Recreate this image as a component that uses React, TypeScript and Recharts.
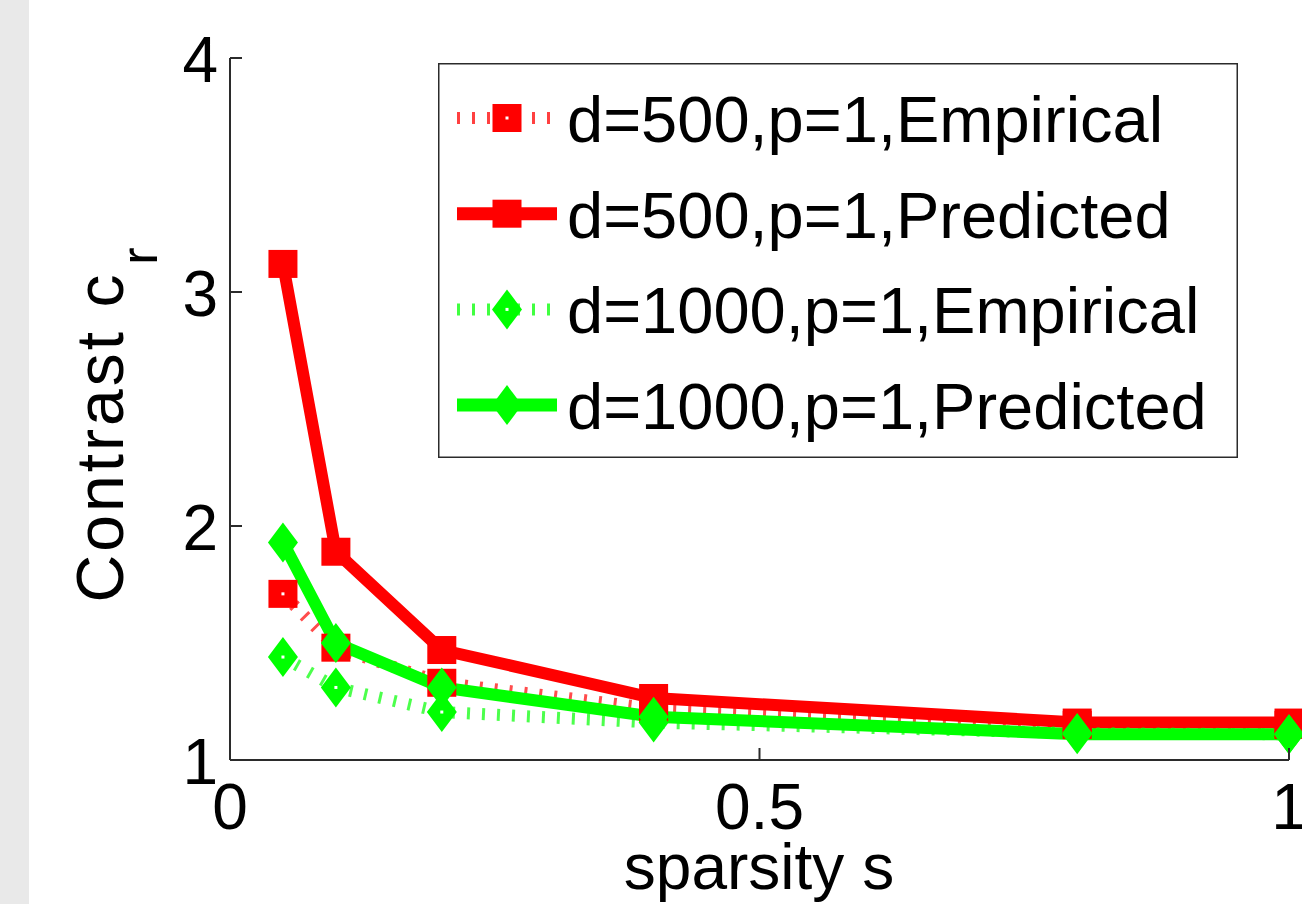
import { Legend, Line, LineChart, XAxis, YAxis } from 'recharts';

// sparsity values on the x axis
const sparsity = [0.05, 0.1, 0.2, 0.4, 0.8, 1.0];
// contrast c_r
const emp500 = [1.71, 1.48, 1.33, 1.22, 1.15, 1.15];
const pred500 = [3.12, 1.89, 1.47, 1.265, 1.16, 1.16];
const emp1000 = [1.44, 1.31, 1.205, 1.16, 1.115, 1.11];
const pred1000 = [1.93, 1.5, 1.31, 1.185, 1.11, 1.11];

const xTicks = [0, 0.5, 1];
const yTicks = [1, 2, 3, 4];

const data = sparsity.map((s, i) => ({
	s,
	emp500: emp500[i],
	pred500: pred500[i],
	emp1000: emp1000[i],
	pred1000: pred1000[i],
}));

const RED = '#ff0000';
const GREEN = '#00ff00';
const AXIS = '#2b2b2b';
const FONT = '"Liberation Sans", Arial, Helvetica, sans-serif';

const series = [
	{ key: 'emp500', name: 'd=500,p=1,Empirical', color: RED, dotted: true, shape: 'square' },
	{ key: 'pred500', name: 'd=500,p=1,Predicted', color: RED, dotted: false, shape: 'square' },
	{ key: 'emp1000', name: 'd=1000,p=1,Empirical', color: GREEN, dotted: true, shape: 'diamond' },
	{ key: 'pred1000', name: 'd=1000,p=1,Predicted', color: GREEN, dotted: false, shape: 'diamond' },
];

function Marker({ cx, cy, shape, color, hollow }: any) {
	if (cx == null || cy == null) return null;
	const body =
		shape === 'square' ? (
			<rect x={cx - 14.5} y={cy - 14} width={29} height={28} fill={color} />
		) : (
			<polygon points={`${cx},${cy - 20} ${cx + 15},${cy} ${cx},${cy + 20} ${cx - 15},${cy}`} fill={color} />
		);
	return (
		<g>
			{body}
			{hollow && <rect x={cx - 1.5} y={cy - 1.5} width={3} height={3} fill="#fff" />}
		</g>
	);
}

function XTick({ x, y, payload }: any) {
	return (
		<g>
			<line x1={x} x2={x} y1={y} y2={y - 12} stroke={AXIS} strokeWidth={2} />
			<text x={x} y={y + 69} textAnchor="middle" fontSize={64} fontFamily={FONT} fill="#000">
				{String(payload.value)}
			</text>
		</g>
	);
}

function YTick({ x, y, payload }: any) {
	return (
		<g>
			<line x1={x} x2={x + 12} y1={y} y2={y} stroke={AXIS} strokeWidth={2} />
			<text x={x - 12} y={y + 24} textAnchor="end" fontSize={64} fontFamily={FONT} fill="#000">
				{String(payload.value)}
			</text>
		</g>
	);
}

function XLabel() {
	return (
		<text x={759} y={889} textAnchor="middle" fontSize={64} fontFamily={FONT} fill="#000">
			sparsity s
		</text>
	);
}

function YLabel() {
	return (
		<g fontFamily={FONT} fill="#000">
			<text transform="translate(123,437) rotate(-90)" textAnchor="middle" fontSize={66} letterSpacing={3}>
				Contrast c
			</text>
			<text transform="translate(157,256) rotate(-90)" textAnchor="middle" fontSize={52}>
				r
			</text>
		</g>
	);
}

function LegendBox({ payload }: any) {
	const keys = (payload || []).map((p: any) => p.dataKey);
	const rows = series.filter((s) => keys.includes(s.key));
	return (
		<svg width={800} height={395} style={{ display: 'block' }}>
			<rect x={0.75} y={0.75} width={798.5} height={393.5} fill="#fff" stroke={AXIS} strokeWidth={1.5} />
			{rows.map((s: any, i: number) => {
				const cy = 55 + i * 95.7;
				return (
					<g key={s.key}>
						<line
							x1={19}
							x2={119}
							y1={cy}
							y2={cy}
							stroke={s.color}
							strokeWidth={s.dotted ? 12 : 13}
							strokeDasharray={s.dotted ? '3 12' : undefined}
							strokeOpacity={s.dotted ? 0.75 : 1}
						/>
						<Marker cx={69} cy={cy} shape={s.shape} color={s.color} hollow={s.dotted} />
						<text x={129} y={cy + 24} fontSize={65} fontFamily={FONT} fill="#000">
							{s.name}
						</text>
					</g>
				);
			})}
		</svg>
	);
}

export default function App() {
	return (
		<div style={{ position: 'absolute', left: 0, top: 0, width: 1302, height: 904, background: '#fff', overflow: 'hidden' }}>
			<div style={{ position: 'absolute', left: 0, top: 0, width: 29, height: 904, background: '#e9e9e9' }} />
			<LineChart width={1302} height={904} data={data} margin={{ top: 58, right: 13, left: 0, bottom: 0 }}>
				<XAxis
					dataKey="s"
					type="number"
					domain={[0, 1]}
					ticks={xTicks}
					height={144}
					tickSize={0}
					tickMargin={0}
					tickLine={false}
					axisLine={{ stroke: AXIS, strokeWidth: 2 }}
					tick={<XTick />}
					interval={0}
					label={<XLabel />}
				/>
				<YAxis
					type="number"
					domain={[1, 4]}
					ticks={yTicks}
					width={230}
					tickSize={0}
					tickMargin={0}
					tickLine={false}
					axisLine={{ stroke: AXIS, strokeWidth: 2 }}
					tick={<YTick />}
					interval={0}
					label={<YLabel />}
				/>
				<Legend
					layout="horizontal"
					verticalAlign="middle"
					align="center"
					content={<LegendBox />}
					wrapperStyle={{ left: 438, top: 63, width: 800, height: 395 }}
				/>
				{series.map((s) => (
					<Line
						key={s.key}
						dataKey={s.key}
						name={s.name}
						type="linear"
						stroke={s.color}
						strokeWidth={12}
						strokeDasharray={s.dotted ? '3 12' : undefined}
						strokeOpacity={s.dotted ? 0.7 : 1}
						isAnimationActive={false}
						dot={(p: any) => (
							<Marker key={`${s.key}-${p.index}`} cx={p.cx} cy={p.cy} shape={s.shape} color={s.color} hollow={s.dotted} />
						)}
						activeDot={false}
					/>
				))}
			</LineChart>
		</div>
	);
}
